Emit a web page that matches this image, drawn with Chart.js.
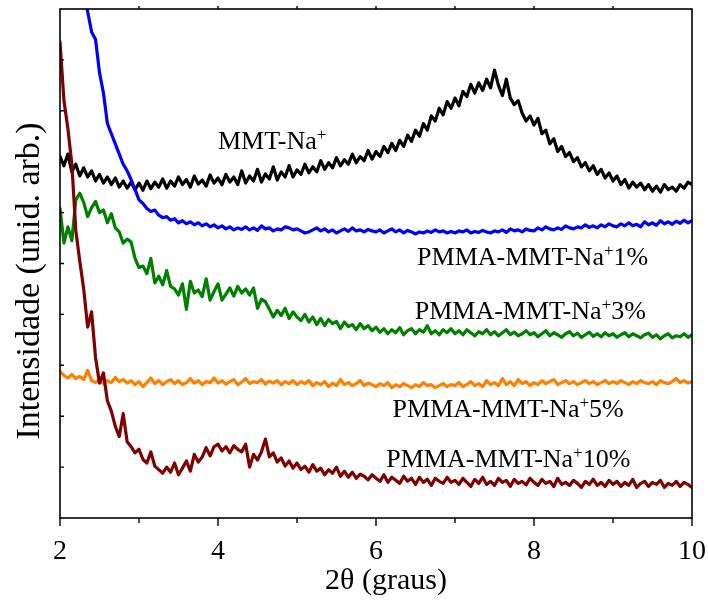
<!DOCTYPE html>
<html>
<head>
<meta charset="utf-8">
<script src="https://cdn.jsdelivr.net/npm/chart.js@4.4.1/dist/chart.umd.min.js"></script>
<style>
html,body{margin:0;padding:0;background:#fff;}
canvas{display:block;}
</style>
</head>
<body>
<canvas id="c" width="708" height="602"></canvas>
<script>
// 2θ sample positions (graus)
const twoTheta = [
2,2.05,2.1,2.15,2.2,2.25,2.3,2.35,2.4,2.45,2.5,2.55,2.6,2.65,2.7,2.75,2.8,2.85,2.9,2.95,
3,3.05,3.1,3.15,3.2,3.25,3.3,3.35,3.4,3.45,3.5,3.55,3.6,3.65,3.7,3.75,3.8,3.85,3.9,3.95,
4,4.05,4.1,4.15,4.2,4.25,4.3,4.35,4.4,4.45,4.5,4.55,4.6,4.65,4.7,4.75,4.8,4.85,4.9,4.95,
5,5.05,5.1,5.15,5.2,5.25,5.3,5.35,5.4,5.45,5.5,5.55,5.6,5.65,5.7,5.75,5.8,5.85,5.9,5.95,
6,6.05,6.1,6.15,6.2,6.25,6.3,6.35,6.4,6.45,6.5,6.55,6.6,6.65,6.7,6.75,6.8,6.85,6.9,6.95,
7,7.05,7.1,7.15,7.2,7.25,7.3,7.35,7.4,7.45,7.5,7.55,7.6,7.65,7.7,7.75,7.8,7.85,7.9,7.95,
8,8.05,8.1,8.15,8.2,8.25,8.3,8.35,8.4,8.45,8.5,8.55,8.6,8.65,8.7,8.75,8.8,8.85,8.9,8.95,
9,9.05,9.1,9.15,9.2,9.25,9.3,9.35,9.4,9.45,9.5,9.55,9.6,9.65,9.7,9.75,9.8,9.85,9.9,9.95,
10];

const seriesNames = ["MMT-Na+", "PMMA-MMT-Na+1%", "PMMA-MMT-Na+3%", "PMMA-MMT-Na+5%", "PMMA-MMT-Na+10%"];

const mmtNa = [
7.10,6.92,7.15,6.80,6.95,6.72,6.88,6.70,6.82,6.62,6.75,6.58,6.70,6.55,6.68,6.50,6.62,6.48,6.60,6.45,
6.58,6.44,6.62,6.47,6.60,6.50,6.66,6.48,6.62,6.52,6.70,6.55,6.65,6.50,6.72,6.56,6.64,6.52,6.74,6.58,
6.68,6.55,6.75,6.60,6.70,6.55,6.82,6.58,6.72,6.62,6.85,6.60,6.76,6.66,6.90,6.64,6.80,6.70,6.92,6.70,
6.84,6.75,6.95,6.78,6.90,6.80,7.02,6.85,6.98,6.88,7.08,6.92,7.04,6.95,7.15,6.98,7.10,7.02,7.22,7.05,
7.20,7.10,7.30,7.18,7.36,7.22,7.42,7.30,7.52,7.40,7.62,7.50,7.75,7.62,7.90,7.80,8.05,7.92,8.18,8.05,
8.25,8.10,8.38,8.28,8.52,8.35,8.55,8.40,8.62,8.45,8.80,8.50,8.30,8.62,8.25,8.12,8.20,7.95,7.80,7.90,
7.72,7.85,7.55,7.62,7.35,7.45,7.20,7.30,7.10,7.18,7.00,7.08,6.90,6.98,6.82,6.92,6.75,6.85,6.68,6.78,
6.62,6.72,6.55,6.65,6.48,6.60,6.50,6.58,6.45,6.55,6.42,6.52,6.40,6.55,6.45,6.50,6.42,6.55,6.48,6.60,
6.55];

const pmma1 = [
13.2,12.8,12.3,11.8,11.3,10.8,10.3,9.95,9.55,9.40,8.75,8.35,7.75,7.55,7.35,7.15,6.95,6.82,6.65,6.45,
6.25,6.18,6.08,6.02,6.05,5.95,5.90,5.92,5.85,5.88,5.80,5.84,5.78,5.82,5.76,5.80,5.74,5.78,5.72,5.76,
5.70,5.74,5.68,5.72,5.66,5.70,5.67,5.72,5.66,5.70,5.65,5.74,5.68,5.70,5.64,5.68,5.66,5.72,5.70,5.66,
5.68,5.64,5.60,5.62,5.66,5.70,5.64,5.68,5.62,5.66,5.60,5.64,5.68,5.63,5.70,5.64,5.66,5.62,5.67,5.64,
5.62,5.66,5.60,5.64,5.68,5.62,5.66,5.60,5.65,5.62,5.58,5.62,5.60,5.64,5.61,5.66,5.62,5.64,5.60,5.63,
5.60,5.64,5.62,5.66,5.60,5.63,5.61,5.65,5.62,5.60,5.64,5.62,5.66,5.61,5.68,5.64,5.66,5.62,5.68,5.65,
5.64,5.70,5.66,5.72,5.68,5.66,5.70,5.67,5.74,5.70,5.68,5.72,5.70,5.76,5.71,5.74,5.70,5.76,5.72,5.78,
5.74,5.72,5.78,5.74,5.80,5.74,5.77,5.72,5.82,5.76,5.80,5.75,5.84,5.78,5.82,5.77,5.83,5.79,5.85,5.80,
5.84];

const pmma3 = [
6.08,5.40,5.72,5.45,6.25,6.38,6.20,5.92,6.10,6.22,6.00,6.05,5.80,5.98,5.70,5.62,5.40,5.48,5.42,5.10,
4.92,4.95,4.80,5.10,4.62,4.75,4.58,4.86,4.55,4.50,4.38,4.60,4.10,4.65,4.42,4.48,4.35,4.70,4.28,4.45,
4.60,4.28,4.40,4.52,4.36,4.55,4.42,4.50,4.38,4.52,4.12,4.30,4.25,4.10,3.95,4.08,3.98,4.12,3.92,4.05,
3.95,3.88,4.00,3.85,3.95,3.80,3.92,3.78,3.90,3.82,3.86,3.72,3.85,3.76,3.80,3.70,3.82,3.72,3.78,3.68,
3.75,3.65,3.72,3.62,3.70,3.64,3.74,3.60,3.68,3.72,3.62,3.70,3.65,3.78,3.62,3.68,3.60,3.70,3.64,3.72,
3.62,3.68,3.60,3.70,3.64,3.58,3.66,3.62,3.70,3.60,3.66,3.58,3.64,3.70,3.60,3.65,3.58,3.62,3.68,3.60,
3.64,3.56,3.62,3.68,3.58,3.64,3.60,3.55,3.62,3.66,3.58,3.63,3.55,3.60,3.65,3.57,3.62,3.56,3.64,3.58,
3.62,3.55,3.60,3.64,3.56,3.62,3.58,3.54,3.60,3.63,3.55,3.60,3.52,3.58,3.62,3.54,3.58,3.56,3.62,3.55,
3.60];

const pmma5 = [
2.88,2.80,2.75,2.82,2.74,2.78,2.72,2.90,2.70,2.66,2.72,2.64,2.70,2.66,2.76,2.68,2.72,2.65,2.70,2.62,
2.68,2.58,2.66,2.75,2.64,2.70,2.62,2.68,2.72,2.64,2.70,2.62,2.66,2.74,2.65,2.70,2.62,2.68,2.66,2.75,
2.65,2.70,2.63,2.68,2.72,2.62,2.67,2.74,2.64,2.68,2.66,2.72,2.63,2.69,2.65,2.70,2.62,2.68,2.64,2.70,
2.62,2.68,2.64,2.70,2.60,2.66,2.62,2.68,2.58,2.65,2.60,2.72,2.62,2.66,2.60,2.64,2.70,2.60,2.65,2.62,
2.58,2.64,2.60,2.66,2.56,2.62,2.58,2.64,2.60,2.56,2.62,2.58,2.66,2.60,2.62,2.56,2.60,2.64,2.58,2.62,
2.60,2.66,2.58,2.62,2.68,2.60,2.64,2.58,2.70,2.62,2.66,2.60,2.74,2.62,2.68,2.60,2.72,2.64,2.68,2.60,
2.66,2.62,2.70,2.64,2.68,2.72,2.62,2.66,2.70,2.64,2.68,2.62,2.66,2.70,2.64,2.68,2.62,2.66,2.70,2.64,
2.68,2.64,2.70,2.66,2.62,2.68,2.64,2.70,2.66,2.64,2.68,2.62,2.70,2.66,2.64,2.68,2.74,2.66,2.70,2.65,
2.68];

const pmma10 = [
9.35,8.20,7.65,6.95,5.65,5.05,4.50,3.75,4.05,3.15,2.65,2.85,2.30,2.10,1.80,1.60,2.05,1.50,1.40,1.28,
1.35,1.15,1.08,1.30,1.02,0.95,0.88,1.00,0.90,1.08,0.85,0.98,1.12,0.92,1.25,1.10,1.20,1.38,1.22,1.40,
1.45,1.32,1.40,1.28,1.42,1.35,1.30,1.45,1.00,1.25,1.14,1.30,1.55,1.20,1.28,1.10,1.18,1.02,1.12,0.98,
1.08,0.95,1.02,0.90,1.05,0.92,0.98,0.85,0.95,0.88,1.00,0.82,0.92,0.80,0.90,0.78,0.86,0.82,0.75,0.85,
0.78,0.72,0.85,0.70,0.80,0.74,0.68,0.82,0.72,0.78,0.66,0.80,0.70,0.76,0.64,0.78,0.72,0.68,0.80,0.70,
0.74,0.66,0.78,0.70,0.62,0.76,0.68,0.80,0.66,0.72,0.64,0.78,0.70,0.74,0.62,0.76,0.68,0.72,0.65,0.78,
0.70,0.64,0.76,0.68,0.72,0.62,0.78,0.66,0.70,0.64,0.74,0.68,0.60,0.72,0.66,0.76,0.64,0.70,0.62,0.74,
0.66,0.72,0.62,0.70,0.64,0.76,0.60,0.68,0.72,0.62,0.70,0.66,0.74,0.60,0.68,0.64,0.72,0.62,0.70,0.66,
0.60];

const xTickValues = [2, 4, 6, 8, 10];
const xMinorValues = [3, 5, 7, 9];
const xTitle = "2θ (graus)";
const yTitle = "Intensidade (unid. arb.)";

const SERIF = "'Liberation Serif','Times New Roman',serif";

function pts(vals) { return vals.map((v, i) => ({ x: twoTheta[i], y: v })); }

// curve annotations: text pieces and anchor (2θ, intensity) of baseline-left
const annotations = [
  { main: "MMT-Na", sup: "+", tail: "", x: 4.00, y: 7.25 },
  { main: "PMMA-MMT-Na", sup: "+", tail: "1%", x: 6.52, y: 4.97 },
  { main: "PMMA-MMT-Na", sup: "+", tail: "3%", x: 6.49, y: 3.90 },
  { main: "PMMA-MMT-Na", sup: "+", tail: "5%", x: 6.21, y: 1.98 },
  { main: "PMMA-MMT-Na", sup: "+", tail: "10%", x: 6.13, y: 1.00 }
];

const framePlugin = {
  id: 'frame',
  afterDatasetsDraw(chart) {
    const { ctx, chartArea: a, scales: { x, y } } = chart;
    ctx.save();
    ctx.strokeStyle = '#000';
    ctx.lineWidth = 1.6;
    ctx.strokeRect(a.left, a.top, a.right - a.left, a.bottom - a.top);
    ctx.lineWidth = 1.4;
    ctx.beginPath();
    xTickValues.forEach(v => { const p = x.getPixelForValue(v); ctx.moveTo(p, a.bottom); ctx.lineTo(p, a.bottom + 8); });
    xMinorValues.forEach(v => { const p = x.getPixelForValue(v); ctx.moveTo(p, a.bottom); ctx.lineTo(p, a.bottom + 5); });
    [3,4,5,6,7,8,9].forEach(v => { const p = x.getPixelForValue(v); ctx.moveTo(p, a.top); ctx.lineTo(p, a.top - 3); });
    [1,2,3,4,5,6,7,8,9].forEach(v => { const p = y.getPixelForValue(v); ctx.moveTo(a.left, p); ctx.lineTo(a.left + 4, p); });
    ctx.stroke();

    // axis titles
    ctx.fillStyle = '#000';
    ctx.font = "30px " + SERIF;
    ctx.textAlign = 'center';
    ctx.textBaseline = 'alphabetic';
    ctx.fillText(xTitle, 386, 589);
    ctx.save();
    ctx.translate(39, 281);
    ctx.rotate(-Math.PI / 2);
    ctx.font = "34px " + SERIF;
    ctx.fillText(yTitle, 0, 0);
    ctx.restore();

    // curve labels
    ctx.textAlign = 'left';
    annotations.forEach(an => {
      const px = x.getPixelForValue(an.x);
      const py = y.getPixelForValue(an.y);
      ctx.font = "26px " + SERIF;
      ctx.fillText(an.main, px, py);
      let cx = px + ctx.measureText(an.main).width;
      ctx.font = "17px " + SERIF;
      ctx.fillText(an.sup, cx, py - 9);
      cx += ctx.measureText(an.sup).width;
      ctx.font = "26px " + SERIF;
      ctx.fillText(an.tail, cx, py);
    });
    ctx.restore();
  }
};

new Chart(document.getElementById('c'), {
  type: 'line',
  data: {
    datasets: [
      { label: seriesNames[4], data: pts(pmma10), borderColor: '#7f0000' },
      { label: seriesNames[3], data: pts(pmma5), borderColor: '#ff8000' },
      { label: seriesNames[2], data: pts(pmma3), borderColor: '#008000' },
      { label: seriesNames[1], data: pts(pmma1), borderColor: '#0000ff' },
      { label: seriesNames[0], data: pts(mmtNa), borderColor: '#000000' }
    ]
  },
  options: {
    responsive: false,
    animation: false,
    layout: { padding: { left: 0, right: 16, top: 9, bottom: 0 } },
    plugins: { legend: { display: false }, tooltip: { enabled: false } },
    elements: {
      point: { radius: 0 },
      line: { borderWidth: 3.2, tension: 0, fill: false, borderJoinStyle: 'round', borderCapStyle: 'round' }
    },
    scales: {
      x: {
        type: 'linear', min: 2, max: 10,
        ticks: { stepSize: 2, color: '#000', padding: 9, font: { family: SERIF, size: 28 } },
        grid: { display: false },
        border: { display: false },
        afterFit(s) { s.height = 84; s.paddingRight = 0; s.paddingLeft = 0; }
      },
      y: {
        min: 0, max: 10,
        ticks: { display: false },
        grid: { display: false },
        border: { display: false },
        afterFit(s) { s.width = 60; s.paddingTop = 0; s.paddingBottom = 0; }
      }
    }
  },
  plugins: [framePlugin]
});
</script>
</body>
</html>
